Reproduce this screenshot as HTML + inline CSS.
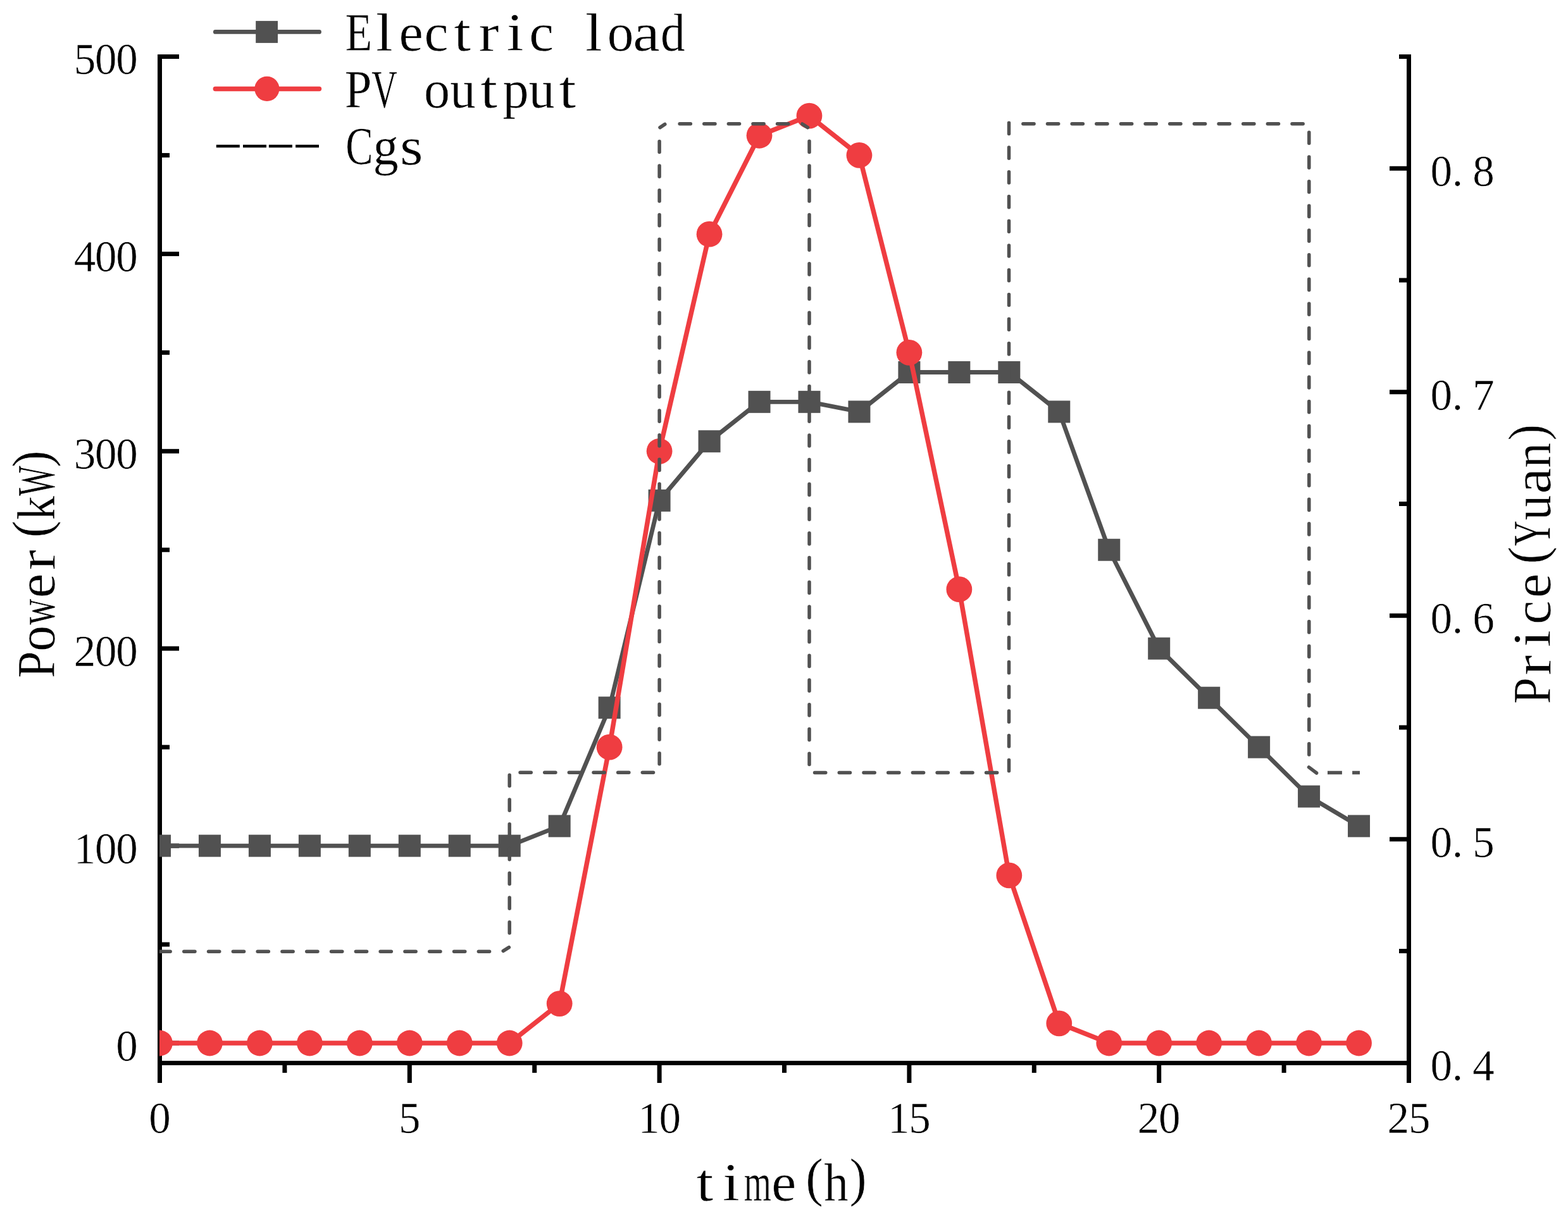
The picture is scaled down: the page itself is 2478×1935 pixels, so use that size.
<!DOCTYPE html>
<html><head><meta charset="utf-8"><title>Power and price chart</title>
<style>html,body{margin:0;padding:0;background:#fff;}svg{display:block;}</style>
</head><body>
<svg width="2478" height="1935" viewBox="0 0 2478 1935">
<rect width="2478" height="1935" fill="#ffffff"/>
<defs><clipPath id="pc"><rect x="252" y="0" width="1976" height="1680"/></clipPath></defs>
<g fill="#000"><rect x="249" y="86" width="7" height="1626"/><rect x="249" y="1677" width="1981" height="7"/><rect x="2223" y="86" width="7" height="1626"/><rect x="256" y="1645.5" width="27" height="7"/><rect x="256" y="1333.6" width="27" height="7"/><rect x="256" y="1021.7" width="27" height="7"/><rect x="256" y="709.8" width="27" height="7"/><rect x="256" y="397.9" width="27" height="7"/><rect x="256" y="86" width="27" height="7"/><rect x="256" y="1489.55" width="12" height="7"/><rect x="256" y="1177.65" width="12" height="7"/><rect x="256" y="865.75" width="12" height="7"/><rect x="256" y="553.85" width="12" height="7"/><rect x="256" y="241.95" width="12" height="7"/><rect x="249" y="1684" width="7" height="28"/><rect x="643.8" y="1684" width="7" height="28"/><rect x="1038.6" y="1684" width="7" height="28"/><rect x="1433.4" y="1684" width="7" height="28"/><rect x="1828.2" y="1684" width="7" height="28"/><rect x="2223" y="1684" width="7" height="28"/><rect x="446.4" y="1684" width="7" height="12"/><rect x="841.2" y="1684" width="7" height="12"/><rect x="1236" y="1684" width="7" height="12"/><rect x="1630.8" y="1684" width="7" height="12"/><rect x="2025.6" y="1684" width="7" height="12"/><rect x="2196" y="1323.25" width="27" height="7"/><rect x="2196" y="969.75" width="27" height="7"/><rect x="2196" y="616.25" width="27" height="7"/><rect x="2196" y="262.75" width="27" height="7"/><rect x="2211" y="1500" width="12" height="7"/><rect x="2211" y="1146.5" width="12" height="7"/><rect x="2211" y="793" width="12" height="7"/><rect x="2211" y="439.5" width="12" height="7"/><rect x="2211" y="86" width="12" height="7"/></g>
<g clip-path="url(#pc)"><polyline points="252.5,1337.1 331.46,1337.1 410.42,1337.1 489.38,1337.1 568.34,1337.1 647.3,1337.1 726.26,1337.1 805.22,1337.1 884.18,1305.91 963.14,1118.77 1042.1,791.28 1121.06,697.71 1200.02,635.33 1278.98,635.33 1357.94,650.92 1436.9,588.54 1515.86,588.54 1594.82,588.54 1673.78,650.92 1752.74,869.25 1831.7,1025.2 1910.66,1103.18 1989.62,1181.15 2068.58,1259.12 2147.54,1305.91" fill="none" stroke="#515151" stroke-width="6.9" stroke-linejoin="round"/><rect x="235" y="1319.6" width="35" height="35" fill="#515151"/><rect x="313.96" y="1319.6" width="35" height="35" fill="#515151"/><rect x="392.92" y="1319.6" width="35" height="35" fill="#515151"/><rect x="471.88" y="1319.6" width="35" height="35" fill="#515151"/><rect x="550.84" y="1319.6" width="35" height="35" fill="#515151"/><rect x="629.8" y="1319.6" width="35" height="35" fill="#515151"/><rect x="708.76" y="1319.6" width="35" height="35" fill="#515151"/><rect x="787.72" y="1319.6" width="35" height="35" fill="#515151"/><rect x="866.68" y="1288.41" width="35" height="35" fill="#515151"/><rect x="945.64" y="1101.27" width="35" height="35" fill="#515151"/><rect x="1024.6" y="773.78" width="35" height="35" fill="#515151"/><rect x="1103.56" y="680.21" width="35" height="35" fill="#515151"/><rect x="1182.52" y="617.83" width="35" height="35" fill="#515151"/><rect x="1261.48" y="617.83" width="35" height="35" fill="#515151"/><rect x="1340.44" y="633.42" width="35" height="35" fill="#515151"/><rect x="1419.4" y="571.04" width="35" height="35" fill="#515151"/><rect x="1498.36" y="571.04" width="35" height="35" fill="#515151"/><rect x="1577.32" y="571.04" width="35" height="35" fill="#515151"/><rect x="1656.28" y="633.42" width="35" height="35" fill="#515151"/><rect x="1735.24" y="851.75" width="35" height="35" fill="#515151"/><rect x="1814.2" y="1007.7" width="35" height="35" fill="#515151"/><rect x="1893.16" y="1085.68" width="35" height="35" fill="#515151"/><rect x="1972.12" y="1163.65" width="35" height="35" fill="#515151"/><rect x="2051.08" y="1241.62" width="35" height="35" fill="#515151"/><rect x="2130.04" y="1288.41" width="35" height="35" fill="#515151"/><polyline points="252.5,1649 331.46,1649 410.42,1649 489.38,1649 568.34,1649 647.3,1649 726.26,1649 805.22,1649 884.18,1586.62 963.14,1181.15 1042.1,713.3 1121.06,370.21 1200.02,214.26 1278.98,183.07 1357.94,245.45 1436.9,557.35 1515.86,931.63 1594.82,1383.88 1673.78,1617.81 1752.74,1649 1831.7,1649 1910.66,1649 1989.62,1649 2068.58,1649 2147.54,1649" fill="none" stroke="#ef3d41" stroke-width="7.5" stroke-linejoin="round"/><circle cx="252.5" cy="1649" r="20.4" fill="#ef3d41"/><circle cx="331.46" cy="1649" r="20.4" fill="#ef3d41"/><circle cx="410.42" cy="1649" r="20.4" fill="#ef3d41"/><circle cx="489.38" cy="1649" r="20.4" fill="#ef3d41"/><circle cx="568.34" cy="1649" r="20.4" fill="#ef3d41"/><circle cx="647.3" cy="1649" r="20.4" fill="#ef3d41"/><circle cx="726.26" cy="1649" r="20.4" fill="#ef3d41"/><circle cx="805.22" cy="1649" r="20.4" fill="#ef3d41"/><circle cx="884.18" cy="1586.62" r="20.4" fill="#ef3d41"/><circle cx="963.14" cy="1181.15" r="20.4" fill="#ef3d41"/><circle cx="1042.1" cy="713.3" r="20.4" fill="#ef3d41"/><circle cx="1121.06" cy="370.21" r="20.4" fill="#ef3d41"/><circle cx="1200.02" cy="214.26" r="20.4" fill="#ef3d41"/><circle cx="1278.98" cy="183.07" r="20.4" fill="#ef3d41"/><circle cx="1357.94" cy="245.45" r="20.4" fill="#ef3d41"/><circle cx="1436.9" cy="557.35" r="20.4" fill="#ef3d41"/><circle cx="1515.86" cy="931.63" r="20.4" fill="#ef3d41"/><circle cx="1594.82" cy="1383.88" r="20.4" fill="#ef3d41"/><circle cx="1673.78" cy="1617.81" r="20.4" fill="#ef3d41"/><circle cx="1752.74" cy="1649" r="20.4" fill="#ef3d41"/><circle cx="1831.7" cy="1649" r="20.4" fill="#ef3d41"/><circle cx="1910.66" cy="1649" r="20.4" fill="#ef3d41"/><circle cx="1989.62" cy="1649" r="20.4" fill="#ef3d41"/><circle cx="2068.58" cy="1649" r="20.4" fill="#ef3d41"/><circle cx="2147.54" cy="1649" r="20.4" fill="#ef3d41"/><path d="M251.95 1504.2L269.15 1504.2M290.75 1504.2L307.95 1504.2M329.55 1504.2L346.75 1504.2M368.35 1504.2L385.55 1504.2M407.15 1504.2L424.35 1504.2M445.95 1504.2L463.15 1504.2M484.75 1504.2L501.95 1504.2M523.55 1504.2L540.75 1504.2M562.35 1504.2L579.55 1504.2M601.15 1504.2L618.35 1504.2M639.95 1504.2L657.15 1504.2M678.75 1504.2L695.95 1504.2M717.55 1504.2L734.75 1504.2M756.35 1504.2L773.55 1504.2M795.23 1503.35L804.37 1497.65M805.2 1475.05L805.2 1457.85M805.2 1436.3L805.2 1419.1M805.2 1397.55L805.2 1380.35M805.2 1358.8L805.2 1341.6M805.2 1320.05L805.2 1302.85M805.2 1281.3L805.2 1264.1M805.2 1242.55L805.2 1225.35M822.05 1221.3L839.25 1221.3M860.7 1221.3L877.9 1221.3M899.35 1221.3L916.55 1221.3M938 1221.3L955.2 1221.3M976.65 1221.3L993.85 1221.3M1015.3 1221.3L1032.5 1221.3M1042.1 1207.85L1042.1 1190.65M1042.1 1169.16L1042.1 1151.96M1042.1 1130.47L1042.1 1113.27M1042.1 1091.78L1042.1 1074.58M1042.1 1053.09L1042.1 1035.89M1042.1 1014.4L1042.1 997.2M1042.1 975.71L1042.1 958.51M1042.1 937.02L1042.1 919.82M1042.1 898.33L1042.1 881.13M1042.1 859.64L1042.1 842.44M1042.1 820.95L1042.1 803.75M1042.1 782.26L1042.1 765.06M1042.1 743.57L1042.1 726.37M1042.1 704.88L1042.1 687.68M1042.1 666.19L1042.1 648.99M1042.1 627.5L1042.1 610.3M1042.1 588.81L1042.1 571.61M1042.1 550.12L1042.1 532.92M1042.1 511.43L1042.1 494.23M1042.1 472.74L1042.1 455.54M1042.1 434.05L1042.1 416.85M1042.1 395.36L1042.1 378.16M1042.1 356.67L1042.1 339.47M1042.1 317.98L1042.1 300.78M1042.1 279.29L1042.1 262.09M1042.1 240.6L1042.1 223.4M1042.99 201.58L1050.81 196.42M1074.15 195.8L1091.35 195.8M1112.75 195.8L1129.95 195.8M1151.35 195.8L1168.55 195.8M1189.95 195.8L1207.15 195.8M1228.55 195.8L1245.75 195.8M1267.9 196L1276.5 201.6M1279 223.25L1279 240.45M1279 261.97L1279 279.17M1279 300.69L1279 317.89M1279 339.41L1279 356.61M1279 378.13L1279 395.33M1279 416.85L1279 434.05M1279 455.57L1279 472.77M1279 494.29L1279 511.49M1279 533.01L1279 550.21M1279 571.73L1279 588.93M1279 610.45L1279 627.65M1279 649.17L1279 666.37M1279 687.89L1279 705.09M1279 726.61L1279 743.81M1279 765.33L1279 782.53M1279 804.05L1279 821.25M1279 842.77L1279 859.97M1279 881.49L1279 898.69M1279 920.21L1279 937.41M1279 958.93L1279 976.13M1279 997.65L1279 1014.85M1279 1036.37L1279 1053.57M1279 1075.09L1279 1092.29M1279 1113.81L1279 1131.01M1279 1152.53L1279 1169.73M1279 1191.25L1279 1208.45M1287.55 1221.4L1304.75 1221.4M1326.26 1221.4L1343.46 1221.4M1364.97 1221.4L1382.17 1221.4M1403.68 1221.4L1420.88 1221.4M1442.39 1221.4L1459.59 1221.4M1481.1 1221.4L1498.3 1221.4M1519.81 1221.4L1537.01 1221.4M1558.52 1221.4L1575.72 1221.4M1594.5 1218.65L1594.5 1201.45M1594.5 1179.91L1594.5 1162.71M1594.5 1141.17L1594.5 1123.97M1594.5 1102.43L1594.5 1085.23M1594.5 1063.69L1594.5 1046.49M1594.5 1024.95L1594.5 1007.75M1594.5 986.21L1594.5 969.01M1594.5 947.47L1594.5 930.27M1594.5 908.73L1594.5 891.53M1594.5 869.99L1594.5 852.79M1594.5 831.25L1594.5 814.05M1594.5 792.51L1594.5 775.31M1594.5 753.77L1594.5 736.57M1594.5 715.03L1594.5 697.83M1594.5 676.29L1594.5 659.09M1594.5 637.55L1594.5 620.35M1594.5 598.81L1594.5 581.61M1594.5 560.07L1594.5 542.87M1594.5 521.33L1594.5 504.13M1594.5 482.59L1594.5 465.39M1594.5 443.85L1594.5 426.65M1594.5 405.11L1594.5 387.91M1594.5 366.37L1594.5 349.17M1594.5 327.63L1594.5 310.43M1594.5 288.89L1594.5 271.69M1594.5 250.15L1594.5 232.95M1594.5 211.41L1594.5 194.21M1616.85 195.8L1634.05 195.8M1655.5 195.8L1672.7 195.8M1694.15 195.8L1711.35 195.8M1732.8 195.8L1750 195.8M1771.45 195.8L1788.65 195.8M1810.1 195.8L1827.3 195.8M1848.75 195.8L1865.95 195.8M1887.4 195.8L1904.6 195.8M1926.05 195.8L1943.25 195.8M1964.7 195.8L1981.9 195.8M2003.35 195.8L2020.55 195.8M2042 195.8L2059.2 195.8M2068.8 209.35L2068.8 226.55M2068.8 248.01L2068.8 265.21M2068.8 286.66L2068.8 303.86M2068.8 325.32L2068.8 342.52M2068.8 363.97L2068.8 381.17M2068.8 402.63L2068.8 419.83M2068.8 441.29L2068.8 458.49M2068.8 479.94L2068.8 497.14M2068.8 518.6L2068.8 535.8M2068.8 557.25L2068.8 574.45M2068.8 595.91L2068.8 613.11M2068.8 634.57L2068.8 651.77M2068.8 673.22L2068.8 690.42M2068.8 711.88L2068.8 729.08M2068.8 750.53L2068.8 767.73M2068.8 789.19L2068.8 806.39M2068.8 827.85L2068.8 845.05M2068.8 866.5L2068.8 883.7M2068.8 905.16L2068.8 922.36M2068.8 943.81L2068.8 961.01M2068.8 982.47L2068.8 999.67M2068.8 1021.13L2068.8 1038.33M2068.8 1059.78L2068.8 1076.98M2068.8 1098.44L2068.8 1115.64M2068.8 1137.09L2068.8 1154.29M2068.8 1175.75L2068.8 1192.95M2068.49 1212.86L2080.61 1222.04" fill="none" stroke="#515151" stroke-width="5.5" stroke-linecap="round"/><path d="M2098 1221.4H2120.9M2137.1 1221.4H2149" stroke="#515151" stroke-width="5.5"/></g>
<g font-family="'Liberation Serif','Noto Serif CJK SC',serif" font-size="69" text-anchor="middle" fill="#000" stroke="#fff" stroke-width="0.5"><text x="200.5" y="1676.5">0</text><text x="133.9 167.2 200.5" y="1364.6">100</text><text x="133.9 167.2 200.5" y="1052.7">200</text><text x="133.9 167.2 200.5" y="740.8">300</text><text x="133.9 167.2 200.5" y="428.9">400</text><text x="133.9 167.2 200.5" y="117">500</text><text x="252.5" y="1791">0</text><text x="647.3" y="1791">5</text><text x="1025.45 1058.75" y="1791">10</text><text x="1420.25 1453.55" y="1791">15</text><text x="1815.05 1848.35" y="1791">20</text><text x="2209.85 2243.15" y="1791">25</text><text x="2277.7 2303.3 2344.6" y="1708.25">0.4</text><text x="2277.7 2303.3 2344.6" y="1354.75">0.5</text><text x="2277.7 2303.3 2344.6" y="1001.25">0.6</text><text x="2277.7 2303.3 2344.6" y="647.75">0.7</text><text x="2277.7 2303.3 2344.6" y="294.25">0.8</text></g>
<g font-family="'Liberation Serif','Noto Serif CJK SC',serif" font-size="84" fill="#000" stroke="#fff" stroke-width="0.5"><text><tspan x="545.7" y="80.3" textLength="42.35" lengthAdjust="spacingAndGlyphs">E</tspan><tspan x="594.13" y="80.3" textLength="26.84" lengthAdjust="spacingAndGlyphs">l</tspan><tspan x="630.62" y="80.3" textLength="38.37" lengthAdjust="spacingAndGlyphs">e</tspan><tspan x="670.63" y="80.3" textLength="38.11" lengthAdjust="spacingAndGlyphs">c</tspan><tspan x="717.39" y="80.3" textLength="26.84" lengthAdjust="spacingAndGlyphs">t</tspan><tspan x="756.42" y="80.3" textLength="32.17" lengthAdjust="spacingAndGlyphs">r</tspan><tspan x="800.89" y="80.3" textLength="26.84" lengthAdjust="spacingAndGlyphs">i</tspan><tspan x="836.38" y="80.3" textLength="38.7" lengthAdjust="spacingAndGlyphs">c</tspan> <tspan x="924.93" y="80.3" textLength="26.84" lengthAdjust="spacingAndGlyphs">l</tspan><tspan x="959.63" y="80.3" textLength="41.64" lengthAdjust="spacingAndGlyphs">o</tspan><tspan x="1000.24" y="80.3" textLength="42.47" lengthAdjust="spacingAndGlyphs">a</tspan><tspan x="1044.1" y="80.3" textLength="38.75" lengthAdjust="spacingAndGlyphs">d</tspan></text><text><tspan x="544.79" y="169.8" textLength="42.68" lengthAdjust="spacingAndGlyphs">P</tspan><tspan x="587.29" y="169.8" textLength="39.43" lengthAdjust="spacingAndGlyphs">V</tspan> <tspan x="669.97" y="169.8" textLength="41.05" lengthAdjust="spacingAndGlyphs">o</tspan><tspan x="711.24" y="169.8" textLength="40.34" lengthAdjust="spacingAndGlyphs">u</tspan><tspan x="759.34" y="169.8" textLength="26.84" lengthAdjust="spacingAndGlyphs">t</tspan><tspan x="794.48" y="169.8" textLength="41.03" lengthAdjust="spacingAndGlyphs">p</tspan><tspan x="835.63" y="169.8" textLength="40.77" lengthAdjust="spacingAndGlyphs">u</tspan><tspan x="883.54" y="169.8" textLength="26.84" lengthAdjust="spacingAndGlyphs">t</tspan></text><text><tspan x="546.23" y="260" textLength="43.35" lengthAdjust="spacingAndGlyphs">C</tspan><tspan x="589.45" y="260" textLength="40.18" lengthAdjust="spacingAndGlyphs">g</tspan><tspan x="631.95" y="260" textLength="36.54" lengthAdjust="spacingAndGlyphs">s</tspan></text><text><tspan x="1100.49" y="1897.8" textLength="26.84" lengthAdjust="spacingAndGlyphs">t</tspan><tspan x="1142.09" y="1897.8" textLength="26.84" lengthAdjust="spacingAndGlyphs">i</tspan><tspan x="1175.84" y="1897.8" textLength="43.13" lengthAdjust="spacingAndGlyphs">m</tspan><tspan x="1219.37" y="1897.8" textLength="38.97" lengthAdjust="spacingAndGlyphs">e</tspan><tspan x="1273.37" y="1890" textLength="27.49" lengthAdjust="spacingAndGlyphs">(</tspan><tspan x="1302.35" y="1897.8" textLength="38.57" lengthAdjust="spacingAndGlyphs">h</tspan><tspan x="1342.38" y="1890" textLength="27.1" lengthAdjust="spacingAndGlyphs">)</tspan></text><text transform="translate(86,0) rotate(-90)"><tspan x="-1072.11" y="0" textLength="42.68" lengthAdjust="spacingAndGlyphs">P</tspan><tspan x="-1029.81" y="0" textLength="40.82" lengthAdjust="spacingAndGlyphs">o</tspan><tspan x="-987.76" y="0" textLength="41.11" lengthAdjust="spacingAndGlyphs">w</tspan><tspan x="-945.61" y="0" textLength="38.73" lengthAdjust="spacingAndGlyphs">e</tspan><tspan x="-901.28" y="0" textLength="32.17" lengthAdjust="spacingAndGlyphs">r</tspan><tspan x="-850.08" y="-7.8" textLength="27.1" lengthAdjust="spacingAndGlyphs">(</tspan><tspan x="-822.36" y="0" textLength="38.26" lengthAdjust="spacingAndGlyphs">k</tspan><tspan x="-783.96" y="0" textLength="47.57" lengthAdjust="spacingAndGlyphs">W</tspan><tspan x="-738.87" y="-7.8" textLength="26.58" lengthAdjust="spacingAndGlyphs">)</tspan></text><text transform="translate(2450,0) rotate(-90)"><tspan x="-1113.08" y="0" textLength="42.11" lengthAdjust="spacingAndGlyphs">P</tspan><tspan x="-1067.73" y="0" textLength="32.17" lengthAdjust="spacingAndGlyphs">r</tspan><tspan x="-1023.11" y="0" textLength="26.84" lengthAdjust="spacingAndGlyphs">i</tspan><tspan x="-986.92" y="0" textLength="37.52" lengthAdjust="spacingAndGlyphs">c</tspan><tspan x="-945.19" y="0" textLength="38.49" lengthAdjust="spacingAndGlyphs">e</tspan><tspan x="-891.84" y="-7.8" textLength="27.62" lengthAdjust="spacingAndGlyphs">(</tspan><tspan x="-863.12" y="0" textLength="39.82" lengthAdjust="spacingAndGlyphs">Y</tspan><tspan x="-822.55" y="0" textLength="39.81" lengthAdjust="spacingAndGlyphs">u</tspan><tspan x="-780.76" y="0" textLength="41.12" lengthAdjust="spacingAndGlyphs">a</tspan><tspan x="-739.84" y="0" textLength="40.05" lengthAdjust="spacingAndGlyphs">n</tspan><tspan x="-696.48" y="-7.8" textLength="25.67" lengthAdjust="spacingAndGlyphs">)</tspan></text></g>
<line x1="340.3" y1="50.4" x2="504.5" y2="50.4" stroke="#515151" stroke-width="6.8" stroke-linecap="round"/><rect x="404.2" y="33.1" width="34.8" height="34.8" fill="#515151"/><line x1="340.3" y1="140.5" x2="504.5" y2="140.5" stroke="#ef3d41" stroke-width="7.4" stroke-linecap="round"/><circle cx="421.9" cy="140.3" r="19.6" fill="#ef3d41"/><rect x="341.8" y="228.8" width="37" height="4.5" fill="#000"/><rect x="384" y="228.8" width="37" height="4.5" fill="#000"/><rect x="424.9" y="228.8" width="37" height="4.5" fill="#000"/><rect x="467.1" y="228.8" width="36.9" height="4.5" fill="#000"/>
</svg>
</body></html>
